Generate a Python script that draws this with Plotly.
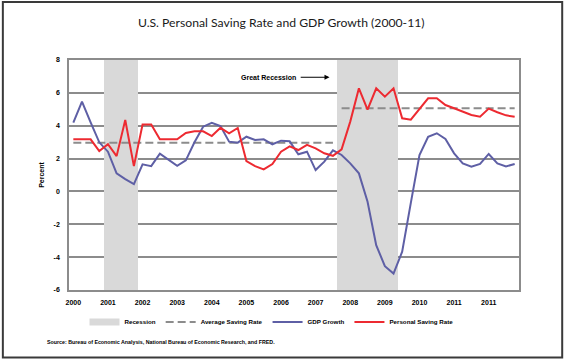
import plotly.graph_objects as go

# ---- data (quarterly categories, 52 of them) ----
n_quarters = 52
year_labels = ["2000", "2001", "2002", "2003", "2004", "2005", "2006",
               "2007", "2008", "2009", "2010", "2011", "2011"]
y_tick_values = [-6, -4, -2, 0, 2, 4, 6, 8]
y_tick_labels = ["-6", "-4", "-2", "0", "2", "4", "6", "8"]

gdp_growth = [4.19, 5.47, 4.2, 2.99, 2.42, 1.10, 0.75, 0.45,
              1.65, 1.54, 2.30, 1.95, 1.56, 1.89, 2.99, 3.94,
              4.17, 3.98, 3.03, 2.97, 3.33, 3.13, 3.17, 2.87,
              3.09, 3.05, 2.26, 2.42, 1.30, 1.81, 2.50, 2.22,
              1.71, 1.10, -0.63, -3.27, -4.55, -5.0, -3.67, -0.7,
              2.22, 3.33, 3.54, 3.19, 2.32, 1.71, 1.50, 1.67,
              2.28, 1.71, 1.52, 1.67]

saving_rate = [3.17, 3.17, 3.17, 2.46, 2.87, 2.15, 4.35, 1.54,
               4.07, 4.07, 3.17, 3.17, 3.17, 3.56, 3.66, 3.66,
               3.37, 3.87, 3.54, 3.86, 1.85, 1.54, 1.34, 1.67,
               2.42, 2.74, 2.52, 2.83, 2.62, 2.32, 2.17, 2.56,
               4.25, 6.28, 4.98, 6.28, 5.77, 6.28, 4.45, 4.37,
               5.02, 5.67, 5.67, 5.26, 5.06, 4.86, 4.65, 4.55,
               5.04, 4.82, 4.63, 4.55]

avg_before = 2.97   # average saving rate before Great Recession
avg_after = 5.06    # average saving rate since Great Recession
break_index = 31    # first quarter of the Great Recession

recession_quarters = [4, 5, 6, 7, 31, 32, 33, 34, 35, 36, 37]
y_min, y_max = -6, 8

# ---- derived positions ----
xc = [i + 0.5 for i in range(n_quarters)]
label_pos = [xc[i] for i in range(0, n_quarters, 4)]
tick_pos = list(range(0, n_quarters + 1, 4))

RED = "#ED2A31"
BLUE = "#5E5FA5"
GRAY = "#8C8C8C"
SHADE = "#D9D9D9"
FONT = "Liberation Sans Narrow, Liberation Sans, Arial, sans-serif"

fig = go.Figure()

fig.add_trace(go.Bar(
    x=[xc[i] for i in recession_quarters],
    y=[y_max - y_min] * len(recession_quarters),
    base=y_min, width=1.0, marker=dict(color=SHADE, line=dict(width=0)),
    name="Recession", legendgroup="rec", showlegend=False, hoverinfo="skip"))
# legend key for the shading (wide flat box like the original)
fig.add_trace(go.Scatter(
    x=[None], y=[None], mode="lines", line=dict(color=SHADE, width=7),
    name="Recession", legendgroup="rec"))

fig.add_trace(go.Scatter(
    x=xc[:break_index], y=[avg_before] * break_index, mode="lines",
    line=dict(color=GRAY, width=2, dash="8px,4px"),
    name="Average Saving Rate", legendgroup="avg"))
fig.add_trace(go.Scatter(
    x=xc[break_index:], y=[avg_after] * (n_quarters - break_index), mode="lines",
    line=dict(color=GRAY, width=2, dash="8px,4px"),
    name="Average Saving Rate", legendgroup="avg", showlegend=False))

fig.add_trace(go.Scatter(
    x=xc, y=gdp_growth, mode="lines",
    line=dict(color=BLUE, width=2), name="GDP Growth"))
fig.add_trace(go.Scatter(
    x=xc, y=saving_rate, mode="lines",
    line=dict(color=RED, width=2), name="Personal Saving Rate"))

bold_font = dict(family=FONT, size=7, color="#000000", weight="bold")
legend_font = dict(family=FONT, size=6.2, color="#000000", weight="bold")

fig.update_layout(
    width=567, height=360,
    margin=dict(l=69, r=48, t=60, b=70, autoexpand=False),
    paper_bgcolor="white", plot_bgcolor="white",
    bargap=0,
    title=dict(text="U.S. Personal Saving Rate and GDP Growth (2000-11)",
               x=0.496, xanchor="center", y=0.937, yanchor="middle",
               font=dict(family="Lato, Liberation Sans, sans-serif", size=12.2, color="#1a1a1a")),
    xaxis=dict(range=[0, n_quarters], tickmode="array", tickvals=label_pos,
               ticktext=year_labels, ticks="", showgrid=False, zeroline=False,
               showline=True, mirror=True, linecolor=GRAY, linewidth=1.5,
               tickfont=bold_font, ticklabelstandoff=5),
    xaxis2=dict(overlaying="x", anchor="free", position=(0 - y_min) / (y_max - y_min),
                range=[0, n_quarters], tickmode="array", tickvals=tick_pos,
                ticks="outside", ticklen=4, tickcolor=GRAY, tickwidth=1.5,
                showline=True, linecolor=GRAY, linewidth=1.5,
                showticklabels=False, showgrid=False, zeroline=False),
    yaxis=dict(range=[y_min, y_max], tickmode="array", tickvals=y_tick_values,
               ticktext=y_tick_labels, showgrid=True, gridcolor=GRAY,
               gridwidth=1.5, zeroline=False, showline=True, mirror=True,
               linecolor=GRAY, linewidth=1.5, ticks="",
               tickfont=bold_font, ticklabelstandoff=6,
               title=dict(text="Percent", standoff=8, font=bold_font)),
    legend=dict(orientation="h", x=0.45, xanchor="center", y=-0.139, yanchor="middle",
                font=legend_font, itemwidth=30,
                traceorder="normal", bgcolor="rgba(0,0,0,0)"),
    showlegend=True,
)

fig.add_annotation(x=23.1, y=6.95, xref="x", yref="y", text="Great Recession",
                   showarrow=False, font=bold_font)
fig.add_annotation(x=30.1, y=6.95, xref="x", yref="y", ax=26.6, ay=6.95,
                   axref="x", ayref="y", text="", showarrow=True,
                   arrowhead=2, arrowsize=1, arrowwidth=1, arrowcolor="#000000")
fig.add_annotation(x=-0.0533, y=-0.226, xref="paper", yref="paper", xanchor="left",
                   yanchor="middle", showarrow=False,
                   text="Source: Bureau of Economic Analysis, National Bureau of Economic Research, and FRED.",
                   font=dict(family=FONT, size=5.3, color="#000000", weight="bold"))

fig.add_shape(type="rect", xref="paper", yref="paper",
              x0=-0.147, x1=1.096, y0=-0.2935, y1=1.252,
              line=dict(color="#3a3a3a", width=2), fillcolor="rgba(0,0,0,0)", layer="above")

fig.write_html("out.html", config={"displayModeBar": False},
               post_script="document.body.style.margin='0';document.body.style.overflow='hidden';")
